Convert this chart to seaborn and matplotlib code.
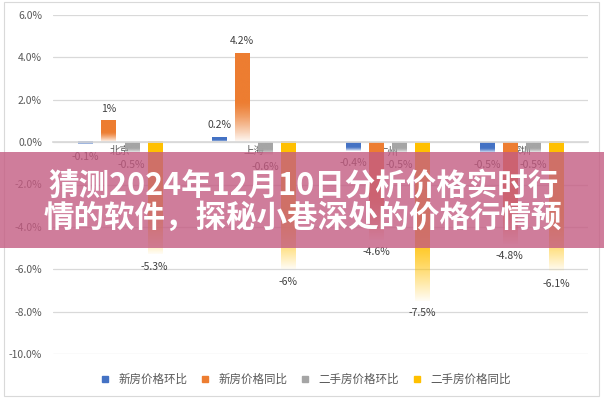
import numpy as np
import pandas as pd
import matplotlib
matplotlib.use("Agg")
import matplotlib.pyplot as plt
from matplotlib.lines import Line2D
from matplotlib.patches import Rectangle
from matplotlib.colors import to_rgb
import seaborn as sns

# data (percent)
cities = ["北京", "上海", "广州", "深圳"]
series_names = ["新房价格环比", "新房价格同比", "二手房价格环比", "二手房价格同比"]
new_mom = [-0.1, 0.2, -0.4, -0.5]
new_yoy = [1.0, 4.2, -4.6, -4.8]
used_mom = [-0.5, -0.6, -0.5, -0.5]
used_yoy = [-5.3, -6.0, -7.5, -6.1]
colors = ["#4472C4", "#ED7D31", "#A5A5A5", "#FFC000"]
title_lines = ["猜测2024年12月10日分析价格实时行", "情的软件，探秘小巷深处的价格行情预"]

df = pd.DataFrame({
    "city": cities * 4,
    "series": np.repeat(series_names, len(cities)),
    "value": new_mom + new_yoy + used_mom + used_yoy,
})

sns.set_theme(style="white")
plt.rcParams["font.family"] = ["Noto Sans CJK SC", "DejaVu Sans"]

fig = plt.figure(figsize=(6.04, 4.0), dpi=100)
ax = fig.add_axes([0.088, 0.115, 0.886, 0.8475])

sns.barplot(data=df, x="city", y="value", hue="series", order=cities,
            hue_order=series_names, palette=colors, width=0.69, gap=0.39,
            legend=False, ax=ax)

ax.set_ylim(-10, 6)
ax.set_yticks(np.arange(-10, 7, 2))
ax.set_yticklabels([f"{v:.1f}%" for v in np.arange(-10, 7, 2)],
                   color="#595959", fontsize=7.5)
ax.yaxis.grid(True, color="#d9d9d9", linewidth=0.9)
ax.set_axisbelow(True)
for s in ["top", "right", "left"]:
    ax.spines[s].set_visible(False)
ax.spines["bottom"].set_position(("data", 0))
ax.spines["bottom"].set_color("#d9d9d9")
ax.tick_params(axis="both", length=0)
ax.tick_params(axis="y", pad=8)
ax.tick_params(axis="x", pad=3, labelsize=7.5, labelcolor="#595959")
ax.set_xlabel("")
ax.set_ylabel("")

# gradient fill: solid at the top of each bar, fading to white at the bottom
xlim, ylim = ax.get_xlim(), ax.get_ylim()
n = 100
t = np.linspace(0, 1, n)
fade = np.clip((t - 0.55) / 0.45, 0, 1) ** 1.3
for cont, col in zip(ax.containers, colors):
    rgb = to_rgb(col)
    img = np.zeros((n, 1, 4))
    img[:, 0, :3] = rgb
    img[:, 0, 3] = 1 - 0.95 * fade
    for bar in cont:
        x0, w = bar.get_x(), bar.get_width()
        y0, h = bar.get_y(), bar.get_height()
        lo, hi = min(y0, y0 + h), max(y0, y0 + h)
        bar.set_facecolor("none")
        bar.set_edgecolor("none")
        ax.imshow(img, extent=[x0, x0 + w, lo, hi], origin="upper",
                  aspect="auto", zorder=2, interpolation="bilinear")
        v = y0 + h
        ax.text(x0 + w / 2, v + (0.35 if v >= 0 else -0.35), f"{v:g}%",
                ha="center", va="bottom" if v >= 0 else "top",
                fontsize=7.5, color="#404040", zorder=3)
ax.set_xlim(xlim)
ax.set_ylim(ylim)

handles = [Line2D([], [], marker="s", linestyle="none", markersize=5,
                  markerfacecolor=c, markeredgecolor=c) for c in colors]
fig.legend(handles, series_names, loc="center", bbox_to_anchor=(0.5, 0.052),
           ncol=4, frameon=False, fontsize=8.3, labelcolor="#595959",
           handletextpad=0.2, columnspacing=0.5)

# outer chart frame
fig.patches.append(Rectangle((0.006, 0.01), 0.985, 0.985, transform=fig.transFigure,
                             fill=False, edgecolor="#d9d9d9", linewidth=0.8))

# pink banner with title
fig.patches.append(Rectangle((0, 0.38), 1, 0.24, transform=fig.transFigure,
                             facecolor="#c45c82", alpha=0.8, edgecolor="none", zorder=5))
fig.text(0.502, 0.537, title_lines[0], ha="center", va="center", color="white",
         fontsize=22, fontweight="bold", zorder=6)
fig.text(0.502, 0.455, title_lines[1], ha="center", va="center", color="white",
         fontsize=22, fontweight="bold", zorder=6)

fig.savefig("out.png", dpi=100, facecolor="white")
